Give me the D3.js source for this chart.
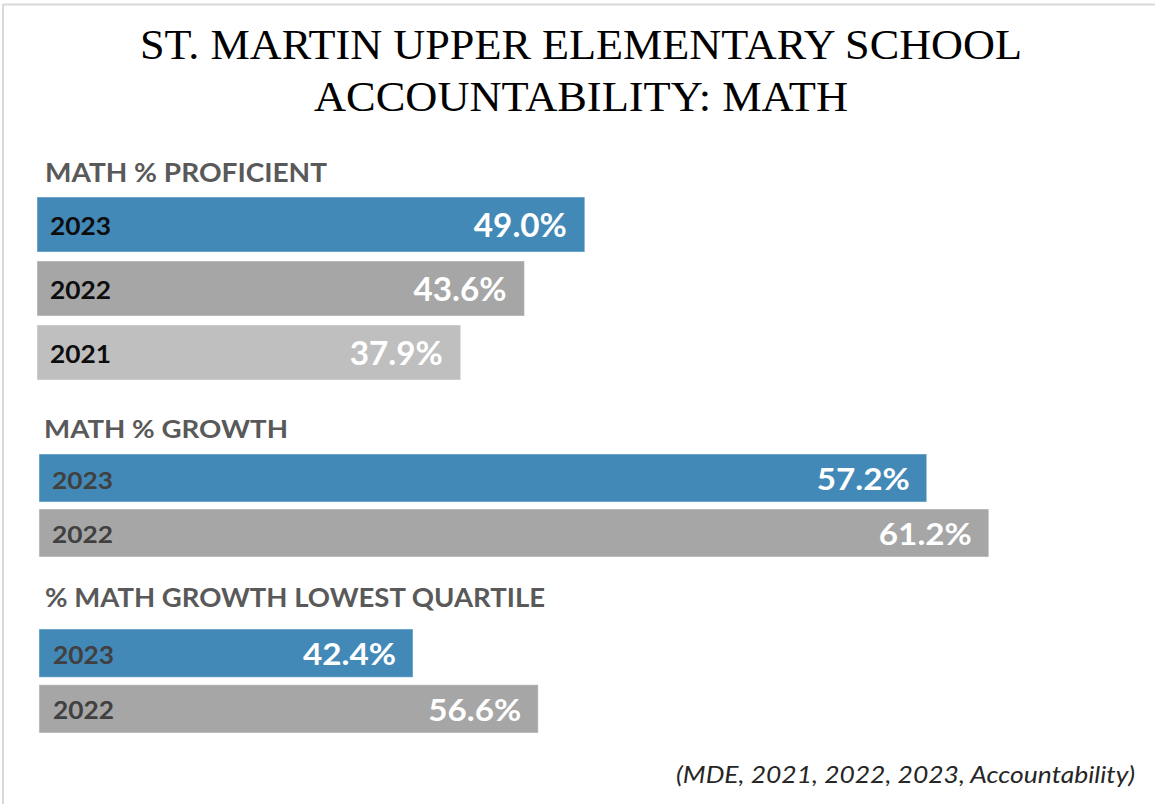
<!DOCTYPE html>
<html>
<head>
<meta charset="utf-8">
<script src="https://cdn.jsdelivr.net/npm/d3@7/dist/d3.min.js"></script>
<style>
  html, body { margin: 0; padding: 0; background: #ffffff; }
  svg { display: block; }
</style>
</head>
<body>
<svg id="chart" width="1155" height="804"></svg>
<script>
// ---------------- DATA ----------------
const titleLines = ["ST. MARTIN UPPER ELEMENTARY SCHOOL", "ACCOUNTABILITY: MATH"];
const sectionTitles = ["MATH % PROFICIENT", "MATH % GROWTH", "% MATH GROWTH LOWEST QUARTILE"];

const proficientYears = ["2023", "2022", "2021"];
const proficientValues = [49.0, 43.6, 37.9];

const growthYears = ["2023", "2022"];
const growthValues = [57.2, 61.2];

const quartileYears = ["2023", "2022"];
const quartileValues = [42.4, 56.6];

const sourceNote = "(MDE, 2021, 2022, 2023, Accountability)";

// ---------------- STYLE ----------------
const yearColors = { "2023": "#4389b8", "2022": "#a6a6a6", "2021": "#bfbfbf" };
const W = 1155, H = 804;
const svg = d3.select("#chart");

// frame lines (top and left)
svg.append("line").attr("x1", 3).attr("x2", W).attr("y1", 4.5).attr("y2", 4.5)
  .attr("stroke", "#d9d9d9").attr("stroke-width", 2);
svg.append("line").attr("x1", 3).attr("x2", 3).attr("y1", 4).attr("y2", H)
  .attr("stroke", "#d9d9d9").attr("stroke-width", 2);

// title
const titleLayout = [{ y: 59, w: 882 }, { y: 111, w: 534 }];
svg.selectAll("text.title").data(titleLines).join("text")
  .attr("class", "title")
  .attr("x", 581)
  .attr("y", (d, i) => titleLayout[i].y)
  .attr("text-anchor", "middle")
  .attr("font-family", "'Liberation Serif', 'DejaVu Serif', serif")
  .attr("font-size", 42)
  .attr("fill", "#000")
  .attr("textLength", (d, i) => titleLayout[i].w)
  .attr("lengthAdjust", "spacingAndGlyphs")
  .text(d => d);

// section drawer
function drawSection(opts) {
  const g = svg.append("g");
  // header
  g.append("text")
    .attr("x", opts.headerX)
    .attr("y", opts.headerY)
    .attr("font-family", "Lato, 'Open Sans', sans-serif")
    .attr("font-weight", 700)
    .attr("font-size", opts.headerSize)
    .attr("fill", "#595959")
    .attr("textLength", opts.headerW)
    .attr("lengthAdjust", "spacingAndGlyphs")
    .text(opts.title);

  const x = d3.scaleLinear().domain([0, 100]).range([opts.x0, opts.x0 + opts.fullWidth]);
  const y = d3.scaleBand().domain(opts.years).range(opts.yRange)
    .paddingInner(opts.padInner).paddingOuter(0);

  const rows = opts.years.map((yr, i) => ({ year: yr, value: opts.values[i] }));

  g.selectAll("rect").data(rows).join("rect")
    .attr("x", x(0))
    .attr("y", d => y(d.year))
    .attr("width", d => x(d.value) - x(0))
    .attr("height", y.bandwidth())
    .attr("fill", d => yearColors[d.year])
    .attr("stroke", "rgba(255,255,255,0.45)")
    .attr("stroke-width", 1);

  g.selectAll("text.year").data(rows).join("text")
    .attr("class", "year")
    .attr("x", opts.yearX)
    .attr("y", d => y(d.year) + y.bandwidth() / 2 + opts.yearDy)
    .attr("font-family", "Lato, 'Open Sans', sans-serif")
    .attr("font-weight", 700)
    .attr("font-size", opts.yearSize)
    .attr("fill", opts.yearColor)
    .attr("textLength", 61)
    .attr("lengthAdjust", "spacingAndGlyphs")
    .text(d => d.year);

  g.selectAll("text.val").data(rows).join("text")
    .attr("class", "val")
    .attr("x", d => x(d.value) - opts.valPad)
    .attr("y", d => y(d.year) + y.bandwidth() / 2 + opts.valDy)
    .attr("text-anchor", "end")
    .attr("font-family", "Lato, 'Open Sans', sans-serif")
    .attr("font-weight", 700)
    .attr("font-size", opts.valSize)
    .attr("fill", "#ffffff")
    .attr("textLength", 93)
    .attr("lengthAdjust", "spacingAndGlyphs")
    .text(d => d.value.toFixed(1) + "%");
}

drawSection({
  title: sectionTitles[0], years: proficientYears, values: proficientValues,
  headerX: 45, headerY: 182, headerW: 282, headerSize: 26,
  x0: 37, fullWidth: 1118, yRange: [197, 380], padInner: 0.14,
  yearX: 50, yearDy: 10.5, yearSize: 25, yearColor: "#0d0d0d",
  valPad: 18, valDy: 12.5, valSize: 32
});

drawSection({
  title: sectionTitles[1], years: growthYears, values: growthValues,
  headerX: 44, headerY: 438, headerW: 244, headerSize: 24,
  x0: 39, fullWidth: 1552, yRange: [454, 557], padInner: 0.127,
  yearX: 52, yearDy: 10.5, yearSize: 23, yearColor: "#404040",
  valPad: 17, valDy: 12, valSize: 30
});

drawSection({
  title: sectionTitles[2], years: quartileYears, values: quartileValues,
  headerX: 45, headerY: 607, headerW: 500, headerSize: 26,
  x0: 39, fullWidth: 882, yRange: [629, 733], padInner: 0.134,
  yearX: 53, yearDy: 10.5, yearSize: 24, yearColor: "#404040",
  valPad: 17, valDy: 12, valSize: 30
});

// source note
svg.append("text")
  .attr("x", 676)
  .attr("y", 783)
  .attr("font-family", "Lato, 'Open Sans', sans-serif")
  .attr("font-style", "italic")
  .attr("font-size", 23)
  .attr("fill", "#262626")
  .attr("textLength", 459)
  .attr("lengthAdjust", "spacingAndGlyphs")
  .text(sourceNote);
</script>
</body>
</html>
